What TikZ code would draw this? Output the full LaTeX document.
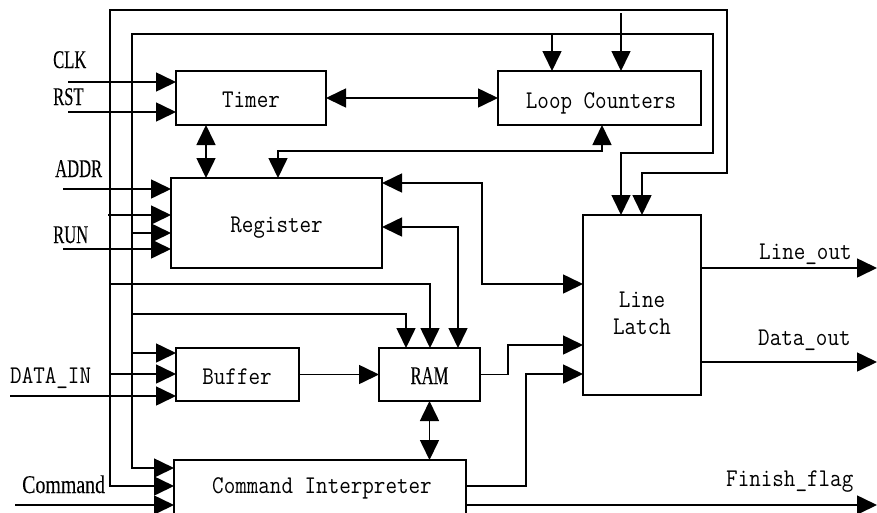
\documentclass[tikz,border=0pt]{standalone}
\usepackage{fontspec}
\usetikzlibrary{arrows.meta}
\newfontfamily\monof[FakeStretch=0.88]{Latin Modern Mono}
\newfontfamily\serf[FakeStretch=0.65,FakeBold=0.2]{Liberation Serif}
\newfontfamily\serw[FakeStretch=0.78,FakeBold=0.2]{Liberation Serif}
\begin{document}
\begin{tikzpicture}[x=1pt,y=-1pt,
  wire/.style={line width=1.6pt, line join=miter},
  arr/.style={wire, -{Triangle[length=20pt,width=19pt]}},
  darr/.style={wire, {Triangle[length=20pt,width=19pt]}-{Triangle[length=20pt,width=19pt]}},
  blk/.style={draw, line width=1.6pt, inner sep=0pt, outer sep=0pt},
  mtxt/.style={font=\monof\fontsize{25.5}{28}\selectfont, inner sep=0pt, anchor=base},
  stxt/.style={font=\serf\fontsize{25.5}{28}\selectfont, inner sep=0pt, anchor=base west},
]
\useasboundingbox (0,0) rectangle (877,512);
\clip (0,0) rectangle (877,512);

% blocks
\node[blk, minimum width=150pt, minimum height=54pt] (timer) at (251,98) {};
\node[blk, minimum width=203pt, minimum height=54pt] (loop) at (599.5,98) {};
\node[blk, minimum width=211pt, minimum height=90pt] (reg) at (276.5,223) {};
\node[blk, minimum width=118pt, minimum height=180pt] (latch) at (642,305) {};
\node[blk, minimum width=123pt, minimum height=53pt] (buf) at (237.5,374.5) {};
\node[blk, minimum width=101pt, minimum height=53pt] (ram) at (429.5,374.5) {};
\node[blk, minimum width=292pt, minimum height=70pt] (cmd) at (320,495) {};

% block texts
\node[mtxt] (timert) at (251,107) {Timer};
\node[mtxt] (loopt) at (601,108) {Loop Counters};
\node[mtxt] (regt) at (276.5,232) {Register};
\node[mtxt] (latcht1) at (642,307) {Line};
\node[mtxt] (latcht2) at (642,334) {Latch};
\node[mtxt] (buft) at (237,384) {Buffer};
\node[stxt, anchor=base] (ramt) at (429.5,384) {RAM};
\node[mtxt] (cmdt) at (322,493) {Command Interpreter};

% signal labels
\node[stxt] (clkl) at (53,68) {CLK};
\node[stxt] (rstl) at (53,105) {RST};
\node[stxt] (addrl) at (55,177) {ADDR};
\node[stxt] (runl) at (53,243) {RUN};
\node[mtxt, anchor=base west] (datal) at (10,383) {DATA\_IN};
\node[stxt, font=\serw\fontsize{25.5}{28}\selectfont] (cmdl) at (22,493) {Command};
\node[mtxt, anchor=base west] (lol) at (759,259) {Line\_out};
\node[mtxt, anchor=base west] (dol) at (758,345) {Data\_out};
\node[mtxt, anchor=base west] (ffl) at (726,486) {Finish\_flag};

% coordinates
\coordinate (clkin) at (68,82);
\coordinate (rstin) at (68,112);
\coordinate (tr) at (206,0);
\coordinate (rl1) at (278,151);
\coordinate (rl2) at (602,151);
\coordinate (a1) at (110,10);
\coordinate (a2) at (727,10);
\coordinate (a3) at (727,173);
\coordinate (a4) at (642,173);
\coordinate (acmd) at (110,486);
\coordinate (ar) at (108,215);
\coordinate (aram) at (430,284);
\coordinate (abuf) at (110,374);
\coordinate (b1) at (132,34);
\coordinate (b2) at (713,34);
\coordinate (b3) at (713,153);
\coordinate (b4) at (621,153);
\coordinate (bcmd) at (132,468);
\coordinate (bl) at (552,34);
\coordinate (breg) at (132,233);
\coordinate (bram) at (406,314);
\coordinate (bbuf) at (132,353);
\coordinate (ctop) at (621,13);
\coordinate (addrin) at (63,189);
\coordinate (runin) at (63,249);
\coordinate (rq1) at (482,183);
\coordinate (rq2) at (482,284);
\coordinate (rr1) at (458,227);
\coordinate (din) at (10,396);
\coordinate (rm) at (508,345);
\coordinate (cm) at (526,374);
\coordinate (cmy) at (0,486);
\coordinate (fin) at (877,505);
\coordinate (cin) at (15,505);
\coordinate (lo) at (877,268);
\coordinate (do) at (877,362);

% connectors
\draw[arr] (clkin) -- (clkin -| timer.west);
\draw[arr] (rstin) -- (rstin -| timer.west);
\draw[darr] (timer.east) -- (loop.west);
\draw[darr] (tr |- timer.south) -- (tr |- reg.north);
\draw[darr] (rl1 |- reg.north) -- (rl1) -- (rl2) -- (rl2 |- loop.south);

\draw[darr] (acmd -| cmd.west) -- (acmd) -- (a1) -- (a2) -- (a3) -- (a4) -- (a4 |- latch.north);
\draw[arr] (ar) -- (ar -| reg.west);
\draw[arr] (aram -| a1) -- (aram) -- (aram |- ram.north);
\draw[arr] (abuf) -- (abuf -| buf.west);

\draw[darr] (bcmd -| cmd.west) -- (bcmd) -- (b1) -- (b2) -- (b3) -- (b4) -- (b4 |- latch.north);
\draw[arr] (bl) -- (bl |- loop.north);
\draw[arr] (breg) -- (breg -| reg.west);
\draw[arr] (bram -| b1) -- (bram) -- (bram |- ram.north);
\draw[arr] (bbuf) -- (bbuf -| buf.west);

\draw[arr] (ctop) -- (ctop |- loop.north);
\draw[arr] (addrin) -- (addrin -| reg.west);
\draw[arr] (runin) -- (runin -| reg.west);
\draw[darr] (rq1 -| reg.east) -- (rq1) -- (rq2) -- (rq2 -| latch.west);
\draw[darr] (rr1 -| reg.east) -- (rr1) -- (rr1 |- ram.north);
\draw[arr] (din) -- (din -| buf.west);
\draw[arr] (buf.east) -- (ram.west);
\draw[arr] (ram.east) -- (ram.east -| rm) -- (rm) -- (rm -| latch.west);
\draw[darr] (ram.south) -- (ram.south |- cmd.north);
\draw[arr] (cmy -| cmd.east) -- (cmy -| cm) -- (cm) -- (cm -| latch.west);
\draw[arr] (fin -| cmd.east) -- (fin);
\draw[arr] (cin) -- (cin -| cmd.west);
\draw[arr] (lo -| latch.east) -- (lo);
\draw[arr] (do -| latch.east) -- (do);
\end{tikzpicture}
\end{document}
